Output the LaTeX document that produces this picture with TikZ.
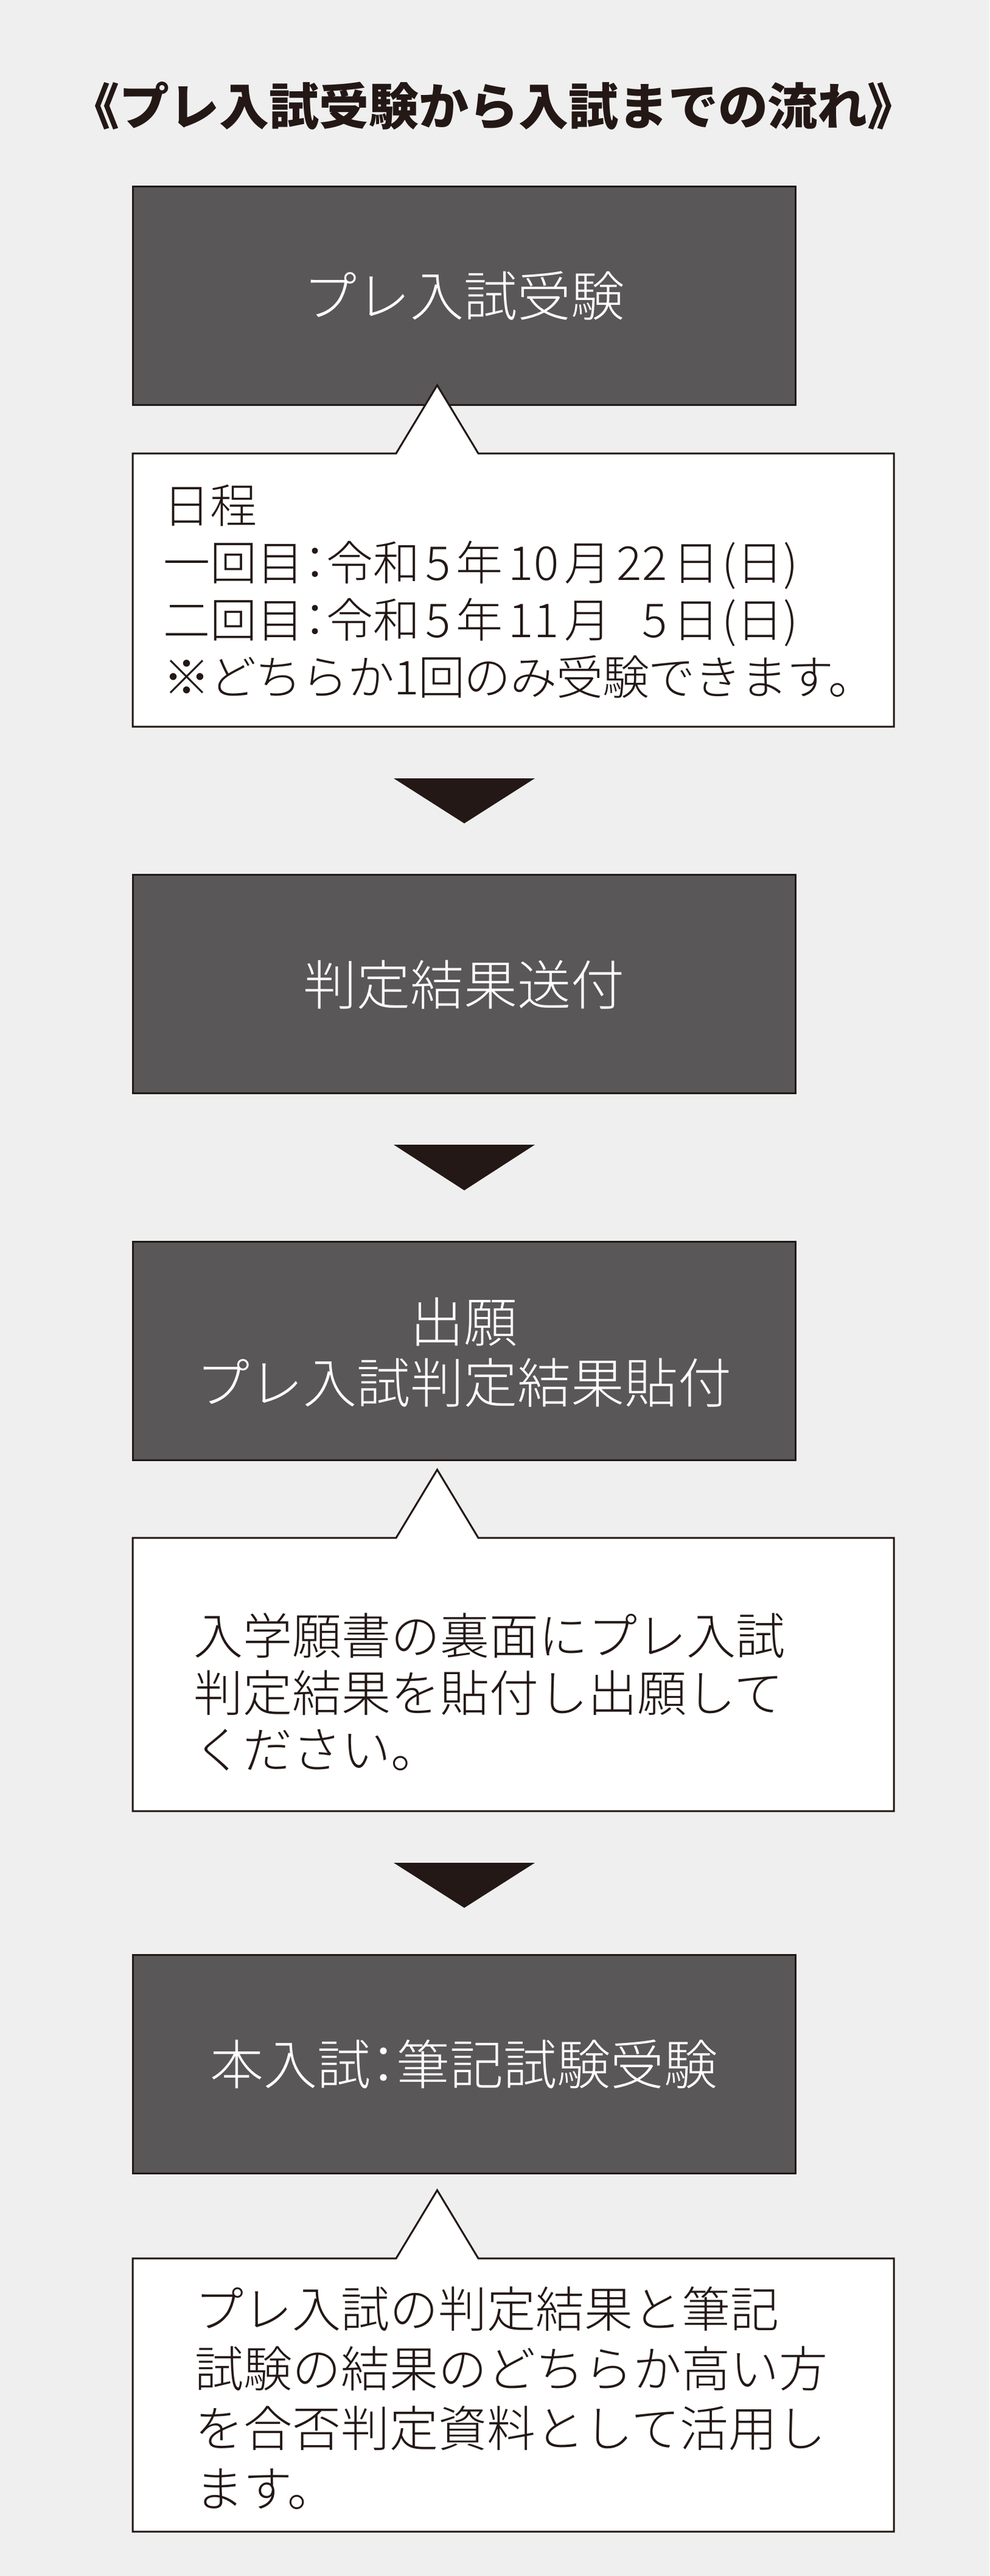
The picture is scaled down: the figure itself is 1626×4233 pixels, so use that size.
\documentclass[tikz,border=0pt]{standalone}
\usepackage{fontspec}
\setmainfont{Noto Sans CJK JP}
\IfFontExistsTF{Noto Sans CJK JP Light}
  {\newfontfamily\jplight{Noto Sans CJK JP Light}}
  {\newfontfamily\jplight{Noto Sans CJK JP}}
\definecolor{bgc}{HTML}{EFEFEF}
\definecolor{boxc}{HTML}{595758}
\definecolor{ink}{HTML}{231815}
\newcommand\jcolon{\kern-0.26em：\kern-0.26em}
\newcommand\dg[1]{\kern0.12em#1\kern0.12em}
\newcommand\mycallout[1]{%
  \draw[calloutbox] (218,#1) -- (651,#1) -- (718.5,#1-112) -- (786,#1)
    -- (1469,#1) -- (1469,#1+449) -- (218,#1+449) -- cycle;}
\begin{document}
\begin{tikzpicture}[x=1pt,y=-1pt,
  stepbox/.style={draw=ink, line width=3pt, fill=boxc, minimum width=1089pt,
    minimum height=359pt, inner sep=0pt, text=white,
    font=\jplight\fontsize{88}{100}\selectfont, text height=73pt, text depth=4.4pt},
  boxtext/.style={inner sep=0pt, text=white,
    font=\jplight\fontsize{88}{100}\selectfont, text height=73pt, text depth=4.4pt},
  calloutbox/.style={draw=ink, line width=3pt, fill=white, line join=miter},
  calltext/.style={anchor=west, inner sep=0pt, text=ink},
  cfa/.style={calltext, font=\jplight\fontsize{77}{94}\selectfont, text height=63.9pt, text depth=3.85pt},
  cfb/.style={calltext, font=\jplight\fontsize{81}{94}\selectfont, text height=67.2pt, text depth=4.05pt},
  cfc/.style={calltext, font=\jplight\fontsize{80}{98}\selectfont, text height=66.4pt, text depth=4pt},
  downtri/.style={fill=ink}]
\path[use as bounding box, fill=bgc] (0,0) rectangle (1626,4233);

% title
\node[inner sep=0pt, text=ink, font=\bfseries\fontsize{82}{100}\selectfont,
  text height=68pt, text depth=4.1pt] (title) at (811,174)
  {《プレ入試受験から入試までの流れ》};

% step 1
\node[stepbox] (b1) at (762.5,485.5) {プレ入試受験};
\mycallout{745}
\node[cfa] (c1a) at (268,829) {日程};
\node[cfa] (c1b) at (268,923) {一回目\jcolon 令和\dg{5}年\dg{10}月\dg{22}日\kern0.05em(日)};
\node[cfa] (c1c) at (268,1017) {二回目\jcolon 令和\dg{5}年\dg{11}月\dg{\hphantom{2}5}日\kern0.05em(日)};
\node[cfa] (c1d) at (268,1111) {\addfontfeature{LetterSpace=-1.6}※どちらか1回のみ受験できます。};

\fill[downtri] (647,1279) -- (879,1279) -- (763,1353) -- cycle;

% step 2
\node[stepbox] (b2) at (762.5,1617) {判定結果送付};

\fill[downtri] (647,1881) -- (879,1881) -- (763,1956) -- cycle;

% step 3
\node[stepbox] (b3) at (762.5,2219.5) {};
\node[boxtext] (b3a) at (762.5,2171) {出願};
\node[boxtext] (b3b) at (762.5,2271) {プレ入試判定結果貼付};
\mycallout{2527}
\node[cfb] (c2a) at (318,2687) {入学願書の裏面にプレ入試};
\node[cfb] (c2b) at (318,2781) {判定結果を貼付し出願して};
\node[cfb] (c2c) at (318,2874) {ください。};

\fill[downtri] (647,3061) -- (879,3061) -- (763,3135) -- cycle;

% step 4
\node[stepbox] (b4) at (762.5,3391.5) {本入試\jcolon 筆記試験受験};
\mycallout{3711}
\node[cfc] (c3a) at (320,3793) {プレ入試の判定結果と筆記};
\node[cfc] (c3b) at (320,3891) {試験の結果のどちらか高い方};
\node[cfc] (c3c) at (320,3989) {を合否判定資料として活用し};
\node[cfc] (c3d) at (320,4088) {ます。};
\end{tikzpicture}
\end{document}
